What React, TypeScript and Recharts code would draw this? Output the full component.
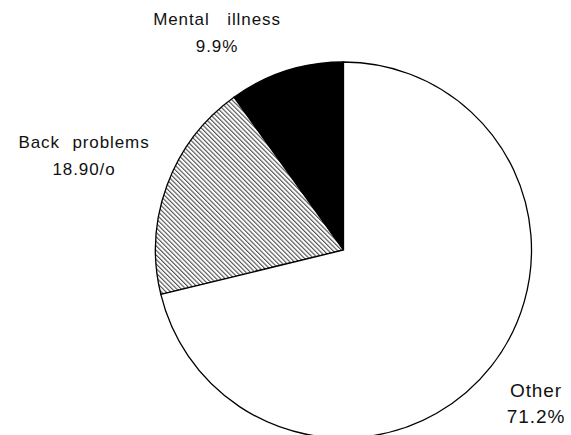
import { PieChart, Pie, Cell } from "recharts";

const categories = ["Mental illness", "Back problems", "Other"];
const shares = [9.9, 18.9, 71.2];
const shareLabels = ["9.9%", "18.90/o", "71.2%"];

const data = categories.map((name, i) => ({
  name,
  value: shares[i],
  shareLabel: shareLabels[i],
}));

const fills = ["#000000", "url(#hatch)", "#ffffff"];

// label placement relative to the pie centre (dx, dy of the first line)
const labelSpots: Record<string, { dx: number; dy: number; size: number; gap: number; ws: number }> = {
  "Mental illness": { dx: -126.5, dy: -225, size: 17, gap: 27, ws: 12 },
  "Back problems": { dx: -259.5, dy: -102, size: 17, gap: 27, ws: 7 },
  Other: { dx: 192.5, dy: 147, size: 19, gap: 26, ws: 0 },
};

const renderLabel = (props: any) => {
  const { cx, cy, name, payload } = props;
  const spot = labelSpots[name];
  if (!spot) return null;
  const x = cx + spot.dx;
  const y = cy + spot.dy;
  return (
    <text
      x={x}
      y={y}
      textAnchor="middle"
      fill="#111"
      fontSize={spot.size}
      fontFamily="Liberation Sans, Arial, sans-serif"
      style={{ wordSpacing: `${spot.ws}px`, letterSpacing: "0.9px" }}
    >
      <tspan x={x} dy={0}>{name}</tspan>
      <tspan x={x} dy={spot.gap}>
        {payload?.shareLabel ?? props.shareLabel}
      </tspan>
    </text>
  );
};

export default function App() {
  return (
    <div style={{ position: "absolute", left: 0, top: 0, width: 571, height: 435, background: "#fff" }}>
      <PieChart width={571} height={435} margin={{ top: 0, right: 0, bottom: 0, left: 0 }}>
        <defs>
          <pattern
            id="hatch"
            width={3.2}
            height={3.2}
            patternUnits="userSpaceOnUse"
            patternTransform="rotate(-45)"
          >
            <rect width={3.2} height={3.2} fill="#fff" />
            <line x1={0.6} y1={0} x2={0.6} y2={3.2} stroke="#3a3a3a" strokeWidth={1} />
          </pattern>
        </defs>
        <Pie
          data={data}
          dataKey="value"
          nameKey="name"
          cx={343.5}
          cy={250}
          outerRadius={188}
          startAngle={90}
          endAngle={450}
          stroke="#000"
          strokeWidth={1.3}
          label={renderLabel}
          labelLine={false}
          isAnimationActive={false}
        >
          {data.map((d, i) => (
            <Cell key={d.name} fill={fills[i]} />
          ))}
        </Pie>
      </PieChart>
    </div>
  );
}
